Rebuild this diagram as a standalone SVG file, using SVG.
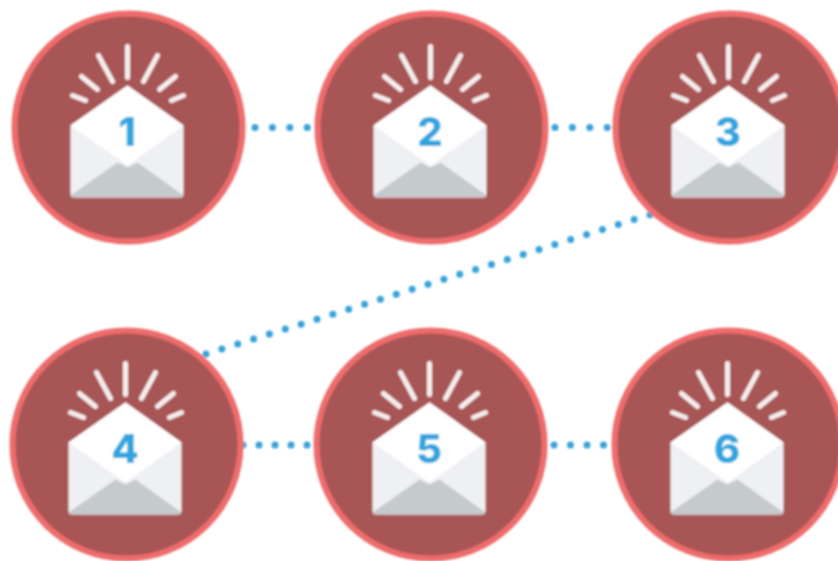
<svg xmlns="http://www.w3.org/2000/svg" xmlns:xlink="http://www.w3.org/1999/xlink" width="838" height="561" viewBox="0 0 838 561">
<style>
.disc{fill:#a85454;stroke:#ee6c6c;stroke-width:6}
.ray{stroke:#f6eeee;stroke-width:5;stroke-linecap:round;fill:none}
.link{stroke:#37a2d9;stroke-width:7;fill:none;stroke-linecap:round}
.num{font-family:"Inter","Liberation Sans",sans-serif;font-weight:800;font-size:40px;fill:#2ea5de;text-anchor:middle}
</style>
<defs>
<filter id="soft" x="-2%" y="-2%" width="104%" height="104%"><feGaussianBlur stdDeviation="0.9"/></filter>
<g id="badge">
<circle class="disc" cx="0" cy="0" r="114"/>
<path class="ray" d="M-1-81V-50M-30-72L-16-46M-47-51L-31-38M-56-32L-43-27M29-72L15-46M47-51L31-38M55-32L43-27"/>
<path d="M-58-2L-1-42L55-2V66Q55 70 51 70H-54Q-58 70-58 66Z" fill="#eff0f3"/>
<path d="M-58 68L-11 35L-1 40L9 35L55 68Q55 70 51 70H-54Q-58 70-58 68Z" fill="#c5cacd"/>
<path d="M-58-2L-1-42L55-2L-1 38Z" fill="#fff"/>
</g>
</defs>
<g filter="url(#soft)">
<g id="connectors">
<path class="link" style="stroke-dasharray:0 17.4" d="M255 127.500H309"/>
<path class="link" style="stroke-dasharray:0 17.4" d="M555 127.500H609"/>
<path class="link" style="stroke-dasharray:0 16.62" d="M206 354L652 214"/>
<path class="link" style="stroke-dasharray:0 16" d="M243 445H309"/>
<path class="link" style="stroke-dasharray:0 16.500" d="M554 445H609"/>
</g>
<g id="node1"><use href="#badge" x="128.5" y="127.5"/><text class="num" x="127" y="146">1</text></g>
<g id="node2"><use href="#badge" x="431.5" y="127.5"/><text class="num" x="430" y="146">2</text></g>
<g id="node3"><use href="#badge" x="729.5" y="127.5"/><text class="num" x="728" y="146">3</text></g>
<g id="node4"><use href="#badge" x="126.5" y="444.5"/><text class="num" x="125" y="463">4</text></g>
<g id="node5"><use href="#badge" x="430.5" y="444.5"/><text class="num" x="429" y="463">5</text></g>
<g id="node6"><use href="#badge" x="728.5" y="444.5"/><text class="num" x="727" y="463">6</text></g>
</g>
</svg>
